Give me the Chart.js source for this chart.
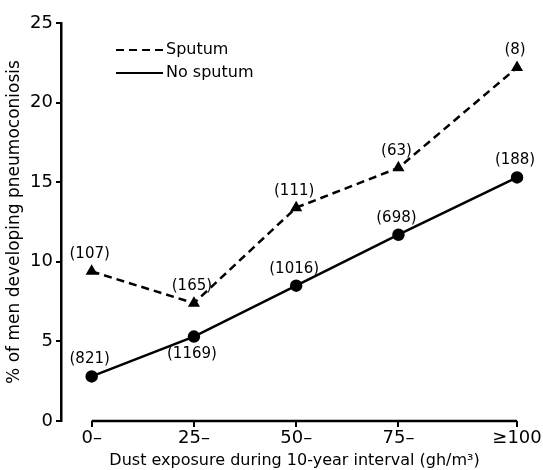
<!DOCTYPE html>
<html>
<head>
<meta charset="utf-8">
<script src="https://cdn.jsdelivr.net/npm/chart.js@4/dist/chart.umd.min.js"></script>
<style>
  html, body { margin: 0; padding: 0; background: #fff; }
</style>
</head>
<body>
<canvas id="canvas1" width="543" height="470"></canvas>
<script>
// exposure groups and where each sits on the dust scale
var categories = ["0\u2013", "25\u2013", "50\u2013", "75\u2013", "\u2265100"];
var exposure = [0, 25, 50, 75, 104];

// % of men developing pneumoconiosis
var sputum = [9.4, 7.4, 13.4, 15.9, 22.2];
var noSputum = [2.8, 5.3, 8.5, 11.7, 15.3];

// number of men in each group
var sputumCounts = ["(107)", "(165)", "(111)", "(63)", "(8)"];
var noSputumCounts = ["(821)", "(1169)", "(1016)", "(698)", "(188)"];

var yTicks = [0, 5, 10, 15, 20, 25];

var font = "'DejaVu Sans', sans-serif";

function points(values) {
  return values.map(function (v, i) { return { x: exposure[i], y: v }; });
}

// group sizes drawn next to each point
var countLabels = {
  id: 'countLabels',
  afterDatasetsDraw: function (chart) {
    var ctx = chart.ctx;
    ctx.save();
    ctx.fillStyle = '#000';
    ctx.font = '15px ' + font;
    ctx.textAlign = 'center';
    ctx.textBaseline = 'middle';
    chart.data.datasets.forEach(function (ds, di) {
      var meta = chart.getDatasetMeta(di);
      meta.data.forEach(function (pt, i) {
        var below = di === 1 && i === 1;
        ctx.fillText(ds.counts[i], pt.x - 2, pt.y + (below ? 17 : -17));
      });
    });
    ctx.restore();
  }
};

// x axis line only spans the groups, legend drawn inside the plot
var extras = {
  id: 'extras',
  afterDraw: function (chart) {
    var ctx = chart.ctx;
    var xs = chart.scales.x;
    var yb = chart.chartArea.bottom;
    ctx.save();
    ctx.strokeStyle = '#000';
    ctx.lineWidth = 2.5;
    ctx.beginPath();
    ctx.moveTo(xs.getPixelForValue(exposure[0]), yb);
    ctx.lineTo(xs.getPixelForValue(exposure[exposure.length - 1]), yb);
    ctx.stroke();

    ctx.lineWidth = 2;
    ctx.setLineDash([8, 5]);
    ctx.beginPath();
    ctx.moveTo(116, 50);
    ctx.lineTo(163, 50);
    ctx.stroke();
    ctx.setLineDash([]);
    ctx.beginPath();
    ctx.moveTo(116, 73);
    ctx.lineTo(163, 73);
    ctx.stroke();

    ctx.fillStyle = '#000';
    ctx.font = '16px ' + font;
    ctx.textAlign = 'left';
    ctx.textBaseline = 'middle';
    ctx.fillText(chart.data.datasets[0].label, 166, 50);
    ctx.fillText(chart.data.datasets[1].label, 166, 73);
    ctx.restore();
  }
};

new Chart(document.getElementById('canvas1'), {
  type: 'line',
  data: {
    datasets: [{
      label: 'Sputum',
      data: points(sputum),
      counts: sputumCounts,
      borderColor: '#000',
      backgroundColor: '#000',
      borderWidth: 2.5,
      borderDash: [8, 5],
      pointStyle: 'triangle',
      pointRadius: 4.5,
      clip: false
    }, {
      label: 'No sputum',
      data: points(noSputum),
      counts: noSputumCounts,
      borderColor: '#000',
      backgroundColor: '#000',
      borderWidth: 2.5,
      pointStyle: 'circle',
      pointRadius: 5,
      clip: false
    }]
  },
  plugins: [countLabels, extras],
  options: {
    responsive: false,
    animation: false,
    layout: { padding: { top: 23, right: 10, left: 0, bottom: 0 } },
    plugins: {
      legend: { display: false },
      tooltip: { enabled: false }
    },
    scales: {
      x: {
        type: 'linear',
        min: -7.5,
        max: 106.7,
        afterFit: function (scale) { scale.height = 49; },
        afterBuildTicks: function (scale) {
          scale.ticks = exposure.map(function (v) { return { value: v }; });
        },
        ticks: {
          color: '#000',
          font: { family: font, size: 18 },
          padding: 1,
          maxRotation: 0,
          callback: function (value) {
            var i = exposure.indexOf(value);
            return i >= 0 ? categories[i] : '';
          }
        },
        grid: { drawOnChartArea: false, drawTicks: true, tickLength: 6, color: '#000', lineWidth: 2 },
        border: { display: false },
        title: {
          display: true,
          text: 'Dust exposure during 10-year interval (gh/m\u00b3)',
          color: '#000',
          font: { family: font, size: 16 },
          padding: { top: 0, bottom: 0 }
        }
      },
      y: {
        min: 0,
        max: 25,
        afterFit: function (scale) { scale.width = 61; },
        afterBuildTicks: function (scale) {
          scale.ticks = yTicks.map(function (v) { return { value: v }; });
        },
        ticks: {
          color: '#000',
          font: { family: font, size: 18 },
          padding: 3
        },
        grid: { drawOnChartArea: false, drawTicks: true, tickLength: 5, color: '#000', lineWidth: 2 },
        border: { display: true, color: '#000', width: 2.5 },
        title: {
          display: true,
          text: '% of men developing pneumoconiosis',
          color: '#000',
          font: { family: font, size: 17 },
          padding: { top: 4, bottom: 0 }
        }
      }
    }
  }
});
</script>
</body>
</html>
